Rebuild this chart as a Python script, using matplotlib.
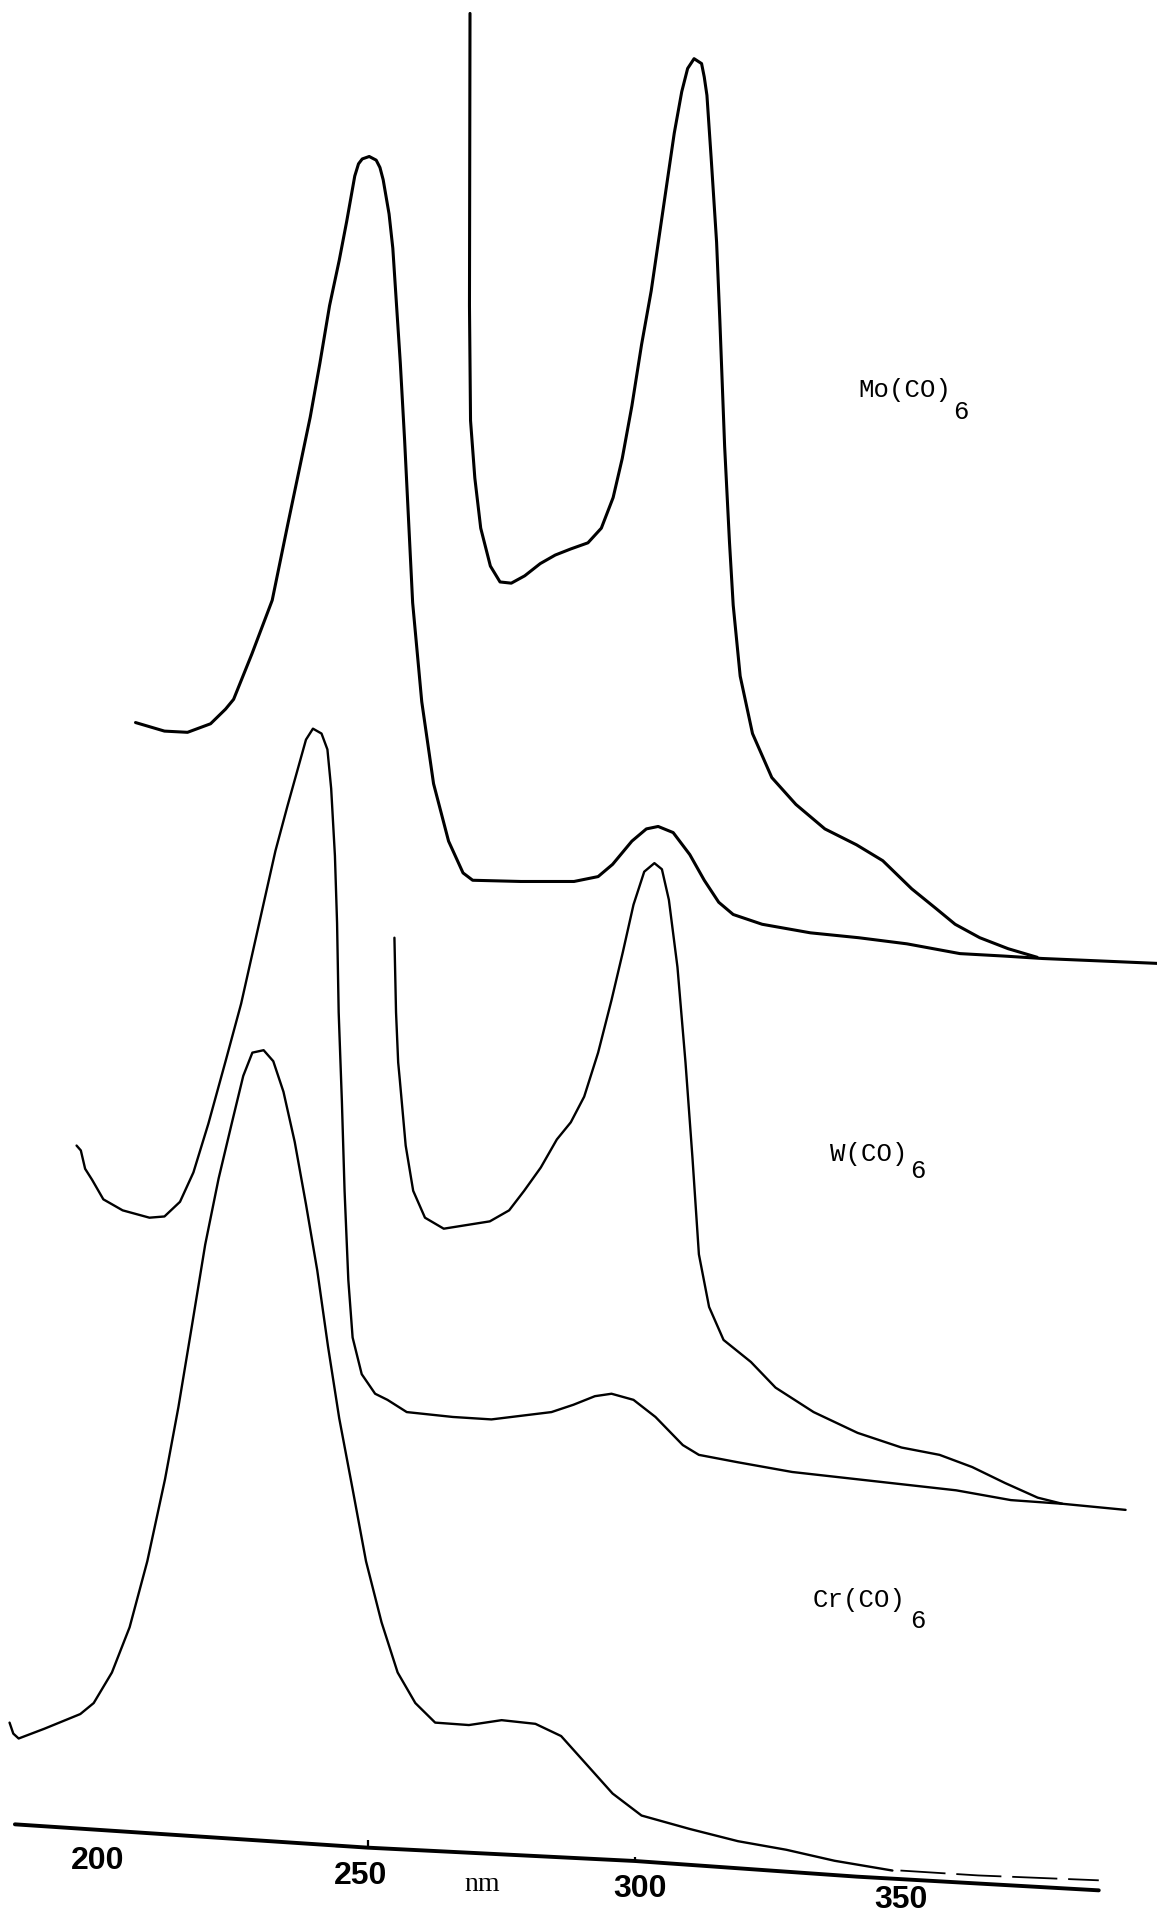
import matplotlib
matplotlib.use("Agg")
import matplotlib.pyplot as plt

# ---------------- data (wavelength in nm, absorbance in arbitrary chart units) -------------
mo_dilute_nm = [206.8, 212.2, 216.5, 220.8, 223.6, 225.1, 228.5, 232.3, 235.2, 237.3, 239.4, 241.2,
                243.0, 244.8, 246.2, 247.7, 248.4, 249.1, 250.4, 251.7, 252.4, 253.0, 254.1, 254.8,
                255.5, 256.2, 257.0, 257.7, 258.5, 260.2, 262.4, 265.2, 267.9, 269.7, 278.7, 288.6,
                293.1, 295.8, 299.4, 302.1, 304.3, 307.1, 310.2, 312.9, 315.6, 318.3, 323.7, 332.7,
                341.7, 350.7, 360.6, 368.8, 376.0, 386.8, 397.4]
mo_dilute_abs = [9.77, 9.70, 9.69, 9.76, 9.88, 9.96, 10.33, 10.77, 11.39, 11.83, 12.27, 12.71,
                 13.18, 13.55, 13.87, 14.24, 14.34, 14.38, 14.40, 14.37, 14.31, 14.21, 13.93, 13.65,
                 13.18, 12.71, 12.08, 11.46, 10.75, 9.94, 9.27, 8.80, 8.54, 8.48, 8.47, 8.47,
                 8.51, 8.61, 8.80, 8.90, 8.92, 8.87, 8.69, 8.48, 8.30, 8.20, 8.12, 8.05,
                 8.01, 7.96, 7.88, 7.86, 7.84, 7.82, 7.80]

mo_conc_nm = [269.2, 269.1, 269.3, 270.1, 271.2, 273.0, 274.8, 276.9, 279.4, 282.3, 285.1, 288.0,
              291.2, 293.7, 295.9, 297.6, 299.4, 301.2, 303.0, 305.1, 307.3, 308.7, 309.8, 311.0,
              312.4, 312.9, 313.4, 314.2, 315.2, 315.8, 316.7, 317.6, 318.3, 319.6, 321.9, 325.5,
              330.0, 335.4, 341.3, 346.2, 351.6, 356.1, 359.7, 364.3, 369.6, 375.0]
mo_conc_abs = [15.57, 13.18, 12.24, 11.77, 11.36, 11.05, 10.92, 10.91, 10.97, 11.07, 11.14, 11.19,
               11.24, 11.36, 11.61, 11.93, 12.36, 12.86, 13.30, 13.93, 14.59, 14.93, 15.12, 15.20,
               15.16, 15.05, 14.90, 14.38, 13.70, 13.07, 12.03, 11.25, 10.73, 10.15, 9.68, 9.32,
               9.10, 8.90, 8.77, 8.64, 8.41, 8.25, 8.12, 8.01, 7.92, 7.85]

w_dilute_nm = [195.8, 196.6, 197.4, 198.7, 200.8, 204.4, 209.4, 212.2, 215.1, 217.6, 220.4, 223.6,
               226.5, 228.6, 230.8, 232.9, 235.1, 237.2, 238.6, 239.9, 241.5, 242.6, 243.3, 244.0,
               244.4, 244.7, 245.3, 245.8, 246.5, 247.3, 249.0, 251.5, 253.8, 257.4, 266.0, 273.2,
               284.4, 288.5, 292.5, 295.6, 299.7, 303.8, 308.9, 311.9, 319.1, 329.3, 339.5, 349.7,
               359.9, 370.1, 379.7, 391.5]
w_dilute_abs = [6.31, 6.27, 6.12, 6.03, 5.87, 5.78, 5.72, 5.73, 5.85, 6.09, 6.49, 7.00,
                7.47, 7.88, 8.31, 8.72, 9.08, 9.41, 9.63, 9.72, 9.68, 9.55, 9.23, 8.68,
                8.13, 7.40, 6.67, 5.94, 5.21, 4.74, 4.44, 4.28, 4.23, 4.13, 4.09, 4.07,
                4.13, 4.19, 4.26, 4.28, 4.23, 4.09, 3.86, 3.78, 3.72, 3.64, 3.59, 3.54,
                3.49, 3.41, 3.38, 3.33]

w_conc_nm = [255.1, 255.4, 255.8, 256.1, 257.2, 258.6, 260.8, 264.3, 268.6, 272.9, 276.5, 279.3,
             282.4, 285.4, 288.0, 290.5, 293.1, 295.6, 297.7, 299.7, 301.7, 303.6, 305.0, 306.3,
             307.9, 309.4, 310.7, 311.9, 313.8, 316.5, 321.6, 326.2, 333.3, 341.5, 349.7, 356.8,
             362.9, 369.0, 375.1, 379.7]
w_conc_abs = [8.01, 7.40, 6.99, 6.85, 6.31, 5.94, 5.72, 5.63, 5.66, 5.69, 5.78, 5.94,
              6.13, 6.36, 6.50, 6.71, 7.07, 7.50, 7.89, 8.28, 8.55, 8.62, 8.57, 8.32,
              7.77, 6.99, 6.21, 5.42, 4.99, 4.72, 4.54, 4.33, 4.13, 3.96, 3.84, 3.78,
              3.68, 3.55, 3.43, 3.38]

cr_nm = [183.3, 184.0, 185.0, 189.8, 196.5, 199.0, 202.4, 205.7, 209.0, 212.3, 214.8, 217.3,
         219.8, 222.3, 224.8, 226.9, 228.6, 230.7, 232.5, 234.4, 236.5, 238.6, 240.7, 242.7,
         244.8, 247.3, 249.8, 252.7, 255.7, 259.0, 262.7, 269.0, 275.1, 281.4, 286.2, 290.9,
         295.8, 301.2, 310.2, 319.2, 328.2, 337.2, 348.0]
cr_abs = [1.59, 1.50, 1.46, 1.54, 1.66, 1.75, 2.00, 2.37, 2.91, 3.58, 4.17, 4.83,
          5.50, 6.04, 6.50, 6.88, 7.07, 7.09, 7.00, 6.75, 6.34, 5.83, 5.29, 4.67,
          4.08, 3.50, 2.91, 2.41, 2.00, 1.75, 1.59, 1.57, 1.61, 1.58, 1.48, 1.25,
          1.01, 0.83, 0.72, 0.62, 0.55, 0.46, 0.38]
cr_dash_nm = [349.5, 364.0, 386.5]
cr_dash_abs = [0.38, 0.34, 0.30]

baseline_nm = [184.3, 250.2, 300.0, 341.4, 386.5]
baseline_abs = [0.758, 0.567, 0.458, 0.33, 0.218]

tick_nm = [250.2, 300.0]
tick_base = [0.567, 0.458]
tick_top = [0.629, 0.493]

tick_labels = ["200", "250", "300", "350"]
tick_label_nm = [199.7, 248.7, 300.9, 349.6]
tick_label_abs = [0.458, 0.335, 0.233, 0.137]
unit_label = "nm"
unit_pos = (271.5, 0.267)

compounds = ["Mo(CO)", "W(CO)", "Cr(CO)"]
compound_nm = [341.6, 336.4, 333.2]
compound_abs = [12.49, 6.245, 2.59]
sub_nm = [359.3, 351.3, 351.3]
sub_abs = [12.31, 6.105, 2.42]

# ---------------- drawing -------------
fig = plt.figure(figsize=(11.57, 19.17), dpi=100)
ax = fig.add_axes([0, 0, 1, 1])
ax.set_xlim(181.52, 397.36)
ax.set_ylim(0, 15.68)
ax.axis("off")

kw = dict(color="black", solid_capstyle="round", solid_joinstyle="round")
ax.plot(mo_dilute_nm, mo_dilute_abs, lw=2.2, **kw)
ax.plot(mo_conc_nm, mo_conc_abs, lw=2.2, **kw)
ax.plot(w_dilute_nm, w_dilute_abs, lw=1.7, **kw)
ax.plot(w_conc_nm, w_conc_abs, lw=1.7, **kw)
ax.plot(cr_nm, cr_abs, lw=1.7, **kw)
ax.plot(cr_dash_nm, cr_dash_abs, lw=1.3, color="black", linestyle=(0, (25, 6)))
ax.plot(baseline_nm, baseline_abs, lw=2.8, **kw)
ax.vlines(tick_nm, tick_base, tick_top, color="black", lw=1.6)

for lab, x, y in zip(tick_labels, tick_label_nm, tick_label_abs):
    ax.text(x, y, lab, ha="center", va="center", fontsize=23, fontweight="bold",
            family=["Liberation Sans Narrow", "Liberation Sans", "DejaVu Sans"])
ax.text(unit_pos[0], unit_pos[1], unit_label, ha="center", va="center", fontsize=20,
        family=["Liberation Serif", "DejaVu Serif"])

for lab, x, y, sx, sy in zip(compounds, compound_nm, compound_abs, sub_nm, sub_abs):
    ax.text(x, y, lab, ha="left", va="center", fontsize=18.5,
            family=["Liberation Mono", "DejaVu Sans Mono"])
    ax.text(sx, sy, "6", ha="left", va="center", fontsize=18.5,
            family=["Liberation Mono", "DejaVu Sans Mono"])

fig.savefig("out.png", dpi=100, facecolor="white")
